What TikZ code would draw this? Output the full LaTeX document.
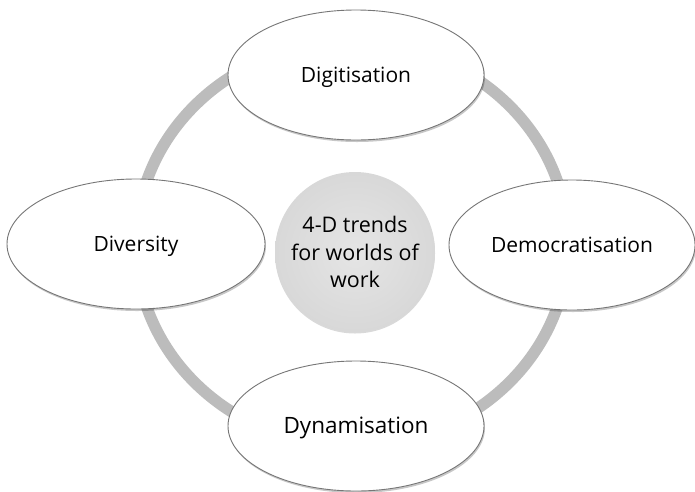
\documentclass[tikz,border=0pt]{standalone}
\usepackage{fontspec}
\setmainfont{Open Sans}
\usetikzlibrary{shapes.geometric, shadows}

\definecolor{ringgray}{RGB}{188,188,188}
\definecolor{rimgray}{RGB}{118,118,118}
\definecolor{hubin}{RGB}{229,229,229}
\definecolor{hubout}{RGB}{216,216,216}

\tikzset{
  trend/.style={ellipse, draw=rimgray, line width=0.9pt, fill=white, inner sep=0pt,
    minimum width=256pt, minimum height=130pt,
    text height=15pt, text depth=0pt, font=\fontsize{21}{25}\selectfont,
    drop shadow={shadow xshift=1pt, shadow yshift=-2pt, opacity=0.22, fill=black}},
  hub/.style={circle, inner sep=0pt, minimum size=160pt,
    inner color=hubin, outer color=hubout, align=center,
    font=\fontsize{21.5}{27.5}\selectfont,
    drop shadow={shadow xshift=0pt, shadow yshift=-1.5pt, opacity=0.15, fill=black}},
}

\begin{document}
\begin{tikzpicture}[x=1pt, y=-1pt]
  \useasboundingbox (0,0) rectangle (695,491);
  % ring behind the four trends
  \draw[ringgray, line width=11.5pt] (352,244) ellipse [x radius=216, y radius=202];
  \node[hub] (hub) at (355,252) {4-D trends\\for worlds of\\work};
  % the four D's
  \node[trend] (digit) at (356,75) {Digitisation};
  \node[trend, minimum width=246pt] (democ) at (572,245) {Democratisation};
  \node[trend, minimum width=258pt] (diver) at (136,244) {Diversity};
  \node[trend, font=\fontsize{22.5}{27}\selectfont] (dynam) at (356,426) {Dynamisation};
\end{tikzpicture}
\end{document}
